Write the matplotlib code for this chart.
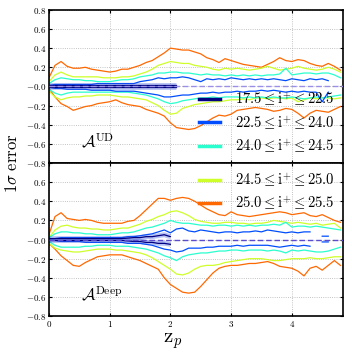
import numpy as np
import matplotlib
matplotlib.use("Agg")
import matplotlib.pyplot as plt
from matplotlib.lines import Line2D
from matplotlib.ticker import FuncFormatter

plt.rcParams['mathtext.fontset'] = 'cm'
plt.rcParams['font.family'] = 'serif'

nan = np.nan
z = np.round(np.arange(0, 4.81, 0.1), 2)

labels = [r'$17.5 \leq \mathrm{i}^{+} \leq 22.5$',
          r'$22.5 \leq \mathrm{i}^{+} \leq 24.0$',
          r'$24.0 \leq \mathrm{i}^{+} \leq 24.5$',
          r'$24.5 \leq \mathrm{i}^{+} \leq 25.0$',
          r'$25.0 \leq \mathrm{i}^{+} \leq 25.5$']

# ---- UD panel ----
ud_navy_up = [0.01]*22 + [nan]*27
ud_navy_lo = [-0.01]*22 + [nan]*27
ud_blue_up = [0.01, 0.02, 0.02, 0.02, 0.02, 0.02, 0.02, 0.02, 0.03, 0.03, 0.03, 0.03, 0.03, 0.03, 0.03,
              0.05, 0.06, 0.07, 0.09, 0.08, 0.09, 0.09, 0.10, 0.09, 0.07, 0.05, 0.08, 0.07, 0.08, 0.07,
              0.09, 0.08, 0.07, 0.08, 0.07, 0.08, 0.07, 0.08, 0.07, 0.06, 0.08, 0.07, 0.06, 0.08, 0.07,
              0.08, 0.06, nan, nan]
ud_blue_lo = [-0.01, -0.02, -0.02, -0.03, -0.03, -0.03, -0.03, -0.04, -0.04, -0.04, -0.04, -0.05, -0.05,
              -0.05, -0.05, -0.06, -0.07, -0.08, -0.09, -0.11, -0.11, -0.10, -0.09, -0.09, -0.08, -0.07,
              -0.07, -0.06, -0.07, -0.06, -0.06, -0.05, -0.06, -0.05, -0.05, -0.04, -0.05, -0.04, -0.05,
              -0.06, -0.05, -0.06, -0.05, -0.06, -0.06, -0.16, -0.06, nan, nan]
ud_turq_up = [0.03, 0.07, 0.09, 0.08, 0.07, 0.07, 0.06, 0.06, 0.05, 0.05, 0.05, 0.06, 0.07, 0.07, 0.08,
              0.10, 0.11, 0.12, 0.14, 0.14, 0.15, 0.15, 0.14, 0.14, 0.13, 0.12, 0.13, 0.12, 0.12, 0.11,
              0.12, 0.11, 0.12, 0.11, 0.12, 0.11, 0.12, 0.12, 0.13, 0.19, 0.12, 0.13, 0.14, 0.14, 0.13,
              0.14, 0.14, 0.12, 0.09]
ud_turq_lo = [-0.03, -0.07, -0.09, -0.07, -0.06, -0.06, -0.06, -0.06, -0.06, -0.06, -0.06, -0.06, -0.06,
              -0.06, -0.07, -0.08, -0.09, -0.11, -0.13, -0.16, -0.18, -0.17, -0.15, -0.14, -0.13, -0.12,
              -0.12, -0.11, -0.12, -0.11, -0.11, -0.11, -0.12, -0.11, -0.12, -0.11, -0.12, -0.11, -0.12,
              -0.12, -0.11, -0.12, -0.13, -0.12, -0.11, -0.12, -0.11, -0.10, -0.09]
ud_yell_up = [0.05, 0.12, 0.15, 0.12, 0.10, 0.10, 0.10, 0.10, 0.10, 0.09, 0.09, 0.09, 0.10, 0.10, 0.11,
              0.13, 0.15, 0.18, 0.22, 0.24, 0.26, 0.25, 0.24, 0.24, 0.22, 0.21, 0.20, 0.18, 0.17, 0.19,
              0.18, 0.19, 0.18, 0.17, 0.18, 0.19, 0.21, 0.19, 0.17, 0.18, 0.19, 0.21, 0.19, 0.18, 0.17,
              0.18, 0.20, 0.18, 0.15]
ud_yell_lo = [-0.05, -0.11, -0.14, -0.12, -0.11, -0.11, -0.10, -0.10, -0.09, -0.09, -0.09, -0.10, -0.11,
              -0.11, -0.12, -0.13, -0.14, -0.17, -0.20, -0.25, -0.29, -0.28, -0.23, -0.21, -0.19, -0.18,
              -0.17, -0.16, -0.16, -0.15, -0.14, -0.14, -0.13, -0.14, -0.12, -0.12, -0.13, -0.12, -0.12,
              -0.13, -0.12, -0.16, -0.14, -0.12, -0.13, -0.12, -0.12, -0.13, -0.12]
ud_oran_up = [0.09, 0.22, 0.26, 0.21, 0.19, 0.19, 0.20, 0.18, 0.17, 0.16, 0.15, 0.16, 0.18, 0.18, 0.20,
              0.22, 0.25, 0.27, 0.31, 0.35, 0.40, 0.39, 0.38, 0.38, 0.36, 0.34, 0.30, 0.28, 0.25, 0.29,
              0.27, 0.25, 0.23, 0.22, 0.21, 0.20, 0.23, 0.26, 0.30, 0.27, 0.26, 0.28, 0.27, 0.24, 0.22,
              0.21, 0.24, 0.21, 0.17]
ud_oran_lo = [-0.02, -0.11, -0.18, -0.21, -0.25, -0.23, -0.21, -0.20, -0.18, -0.17, -0.16, -0.14, -0.17,
              -0.19, -0.20, -0.21, -0.24, -0.26, -0.28, -0.31, -0.38, -0.43, -0.44, -0.45, -0.44, -0.41,
              -0.37, -0.33, -0.30, -0.31, -0.29, -0.25, -0.24, -0.23, -0.22, -0.23, -0.24, -0.26, -0.25,
              -0.23, -0.24, -0.28, -0.33, -0.28, -0.25, -0.26, -0.27, -0.24, -0.21]

# ---- Deep panel ----
dp_navy_up = [0.01]*13 + [0.015, 0.02, 0.02, 0.03, 0.03, 0.04, 0.05, 0.03] + [nan]*28
dp_navy_lo = [-0.01]*13 + [-0.015, -0.02, -0.02, -0.03, -0.03, -0.04, -0.04, -0.05] + [nan]*28
dp_blue_up = [0.01, 0.01, 0.02, 0.02, 0.02, 0.02, 0.02, 0.02, 0.02, 0.02, 0.02, 0.02, 0.02, 0.03, 0.03,
              0.04, 0.05, 0.06, 0.08, 0.10, 0.07, 0.11, 0.12, 0.09, 0.08, 0.10, 0.09, 0.08, 0.07, 0.08,
              0.08, 0.07, 0.08, 0.08, 0.09, 0.08, 0.10, 0.09, 0.08, 0.07, 0.08, 0.07, 0.08, 0.08, nan,
              0.035, 0.035, nan, nan]
dp_blue_lo = [-0.01, -0.01, -0.02, -0.02, -0.02, -0.02, -0.03, -0.03, -0.03, -0.03, -0.03, -0.03, -0.03,
              -0.04, -0.04, -0.04, -0.05, -0.06, -0.08, -0.10, -0.11, -0.13, -0.12, -0.09, -0.09, -0.09,
              -0.08, -0.08, -0.07, -0.07, -0.07, -0.06, -0.07, -0.06, -0.06, -0.06, -0.06, -0.07, -0.08,
              -0.07, -0.06, -0.07, -0.06, -0.07, nan, -0.025, -0.025, nan, nan]
dp_turq_up = [0.02, 0.06, 0.08, 0.08, 0.07, 0.07, 0.06, 0.06, 0.05, 0.05, 0.05, 0.06, 0.07, 0.07, 0.08,
              0.10, 0.12, 0.13, 0.15, 0.17, 0.20, 0.18, 0.17, 0.17, 0.16, 0.15, 0.15, 0.14, 0.15, 0.15,
              0.14, 0.15, 0.14, 0.15, 0.14, 0.15, 0.15, 0.16, 0.15, 0.18, 0.13, 0.14, 0.14, 0.13, 0.14,
              0.13, 0.12, 0.11, 0.10]
dp_turq_lo = [-0.02, -0.06, -0.08, -0.08, -0.08, -0.08, -0.07, -0.07, -0.06, -0.06, -0.06, -0.07, -0.07,
              -0.07, -0.08, -0.09, -0.10, -0.12, -0.14, -0.17, -0.19, -0.22, -0.18, -0.16, -0.15, -0.14,
              -0.14, -0.13, -0.12, -0.12, -0.11, -0.11, -0.12, -0.11, -0.11, -0.11, -0.12, -0.11, -0.12,
              -0.14, -0.11, -0.12, -0.11, -0.12, -0.13, -0.13, -0.12, -0.10, -0.08]
dp_yell_up = [0.02, 0.10, 0.14, 0.15, 0.13, 0.12, 0.12, 0.11, 0.11, 0.10, 0.10, 0.11, 0.12, 0.12, 0.14,
              0.16, 0.19, 0.21, 0.24, 0.26, 0.29, 0.30, 0.28, 0.25, 0.21, 0.19, 0.18, 0.17, 0.17, 0.18,
              0.18, 0.17, 0.17, 0.16, 0.17, 0.17, 0.18, 0.20, 0.19, 0.18, 0.17, 0.18, 0.17, 0.16, 0.17,
              0.15, 0.16, 0.17, 0.12]
dp_yell_lo = [-0.04, -0.09, -0.11, -0.12, -0.13, -0.13, -0.12, -0.11, -0.10, -0.10, -0.10, -0.11, -0.11,
              -0.12, -0.13, -0.14, -0.16, -0.19, -0.23, -0.27, -0.31, -0.36, -0.37, -0.35, -0.31, -0.28,
              -0.27, -0.27, -0.26, -0.24, -0.23, -0.22, -0.21, -0.20, -0.20, -0.20, -0.21, -0.22, -0.22,
              -0.21, -0.20, -0.20, -0.20, -0.19, -0.20, -0.20, -0.19, -0.18, -0.18]
dp_oran_up = [0.05, 0.24, 0.28, 0.22, 0.21, 0.20, 0.21, 0.20, 0.18, 0.17, 0.17, 0.17, 0.17, 0.19, 0.20,
              0.25, 0.31, 0.37, 0.43, 0.43, 0.41, 0.43, 0.44, 0.43, 0.40, 0.36, 0.32, 0.29, 0.26, 0.25,
              0.29, 0.26, 0.25, 0.24, 0.25, 0.26, 0.27, 0.28, 0.29, 0.28, 0.26, 0.27, 0.28, 0.25, 0.24,
              0.26, 0.23, 0.20, 0.18]
dp_oran_lo = [-0.04, -0.10, -0.17, -0.22, -0.27, -0.28, -0.24, -0.21, -0.18, -0.17, -0.16, -0.16, -0.16,
              -0.18, -0.20, -0.22, -0.25, -0.28, -0.31, -0.40, -0.47, -0.51, -0.55, -0.56, -0.55, -0.49,
              -0.42, -0.35, -0.30, -0.28, -0.27, -0.27, -0.26, -0.25, -0.25, -0.24, -0.23, -0.25, -0.28,
              -0.29, -0.30, -0.33, -0.38, -0.30, -0.28, -0.32, -0.27, -0.22, -0.27]

ud = [(ud_navy_up, ud_navy_lo), (ud_blue_up, ud_blue_lo), (ud_turq_up, ud_turq_lo),
      (ud_yell_up, ud_yell_lo), (ud_oran_up, ud_oran_lo)]
dp = [(dp_navy_up, dp_navy_lo), (dp_blue_up, dp_blue_lo), (dp_turq_up, dp_turq_lo),
      (dp_yell_up, dp_yell_lo), (dp_oran_up, dp_oran_lo)]

colors = plt.cm.jet([0.0, 0.2, 0.4, 0.6, 0.8])

fig = plt.figure(figsize=(3.52, 3.52), dpi=100)
ax1 = fig.add_axes([0.139, 0.537, 0.835, 0.435])
ax2 = fig.add_axes([0.139, 0.102, 0.835, 0.435])

fmt = FuncFormatter(lambda v, p: r'$%.1f$' % v)


def draw_panel(ax, series, zero_color):
    for i in range(4, -1, -1):
        up, lo = series[i]
        if i == 0:
            ax.plot(z, up, color='#3050e0', lw=3.5, alpha=0.35, solid_capstyle='butt')
            ax.plot(z, lo, color='#3050e0', lw=3.5, alpha=0.35, solid_capstyle='butt')
        ax.plot(z, up, color=colors[i], lw=0.9)
        ax.plot(z, lo, color=colors[i], lw=0.9)
    ax.axhline(0, color=zero_color, lw=1.0, ls=(0, (4, 2)), zorder=5)
    ax.set_xlim(0, 4.84)
    ax.set_ylim(-0.8, 0.8)
    ax.set_yticks(np.arange(-0.8, 0.81, 0.2))
    ax.set_xticks([0, 1, 2, 3, 4])
    ax.yaxis.set_major_formatter(fmt)
    ax.xaxis.set_major_formatter(FuncFormatter(lambda v, p: r'$%d$' % v))
    ax.grid(True, ls=':', color='#b0b0b0', lw=0.6)
    ax.tick_params(labelsize=6.5, direction='in', length=2, top=True, right=True, pad=2)
    for s in ax.spines.values():
        s.set_linewidth(1.2)


draw_panel(ax1, ud, '#9a8fe6')
draw_panel(ax2, dp, '#5a4ccc')
ax1.set_xticklabels([])
ax2.get_yticklabels()[-1].set_visible(False)

handles = [Line2D([], [], color=c, lw=2.5) for c in colors]
ax1.legend(handles[:3], labels[:3], loc='lower right', frameon=False, fontsize=10.5,
           handlelength=1.5, handletextpad=1.0, labelspacing=0.38, borderaxespad=0.15)
ax2.legend(handles[3:], labels[3:], loc='upper right', frameon=False, fontsize=10.5,
           handlelength=1.5, handletextpad=1.0, labelspacing=0.38, borderaxespad=0.15)

ax1.text(0.11, 0.1, r'$\mathcal{A}^{\rm UD}$', transform=ax1.transAxes, fontsize=12)
ax2.text(0.11, 0.1, r'$\mathcal{A}^{\rm Deep}$', transform=ax2.transAxes, fontsize=12)

fig.text(0.035, 0.537, r'$1\sigma\ \mathrm{error}$', rotation=90, ha='center', va='center', fontsize=12)
fig.text(0.49, 0.03, r'$\mathrm{z}_{p}$', ha='center', va='center', fontsize=15)

fig.savefig('out.png', dpi=100)
